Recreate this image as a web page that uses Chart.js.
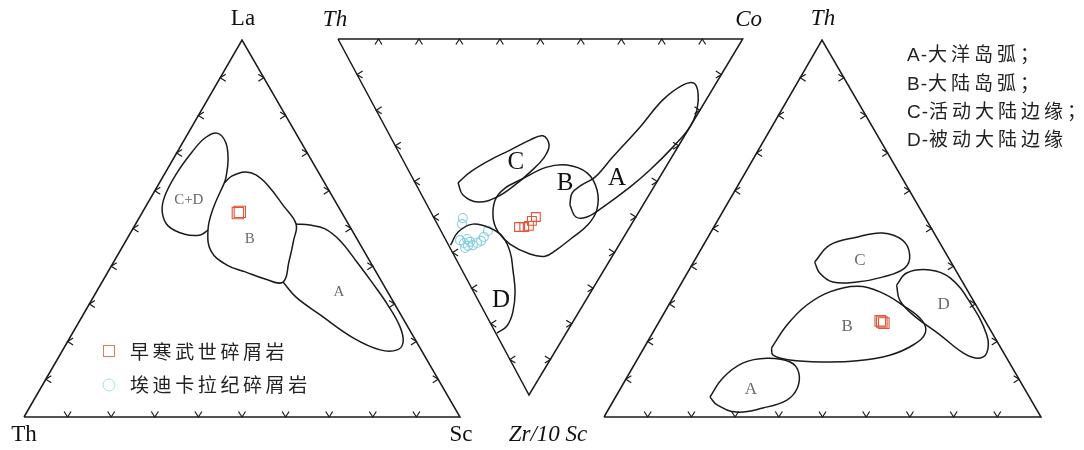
<!DOCTYPE html>
<html>
<head>
<meta charset="utf-8">
<script src="https://cdn.jsdelivr.net/npm/chart.js@4.4.0/dist/chart.umd.min.js"></script>
<style>
  html, body { margin: 0; padding: 0; background: #fff; }
  #wrap { width: 1084px; height: 450px; }
</style>
</head>
<body>
<div id="wrap"><canvas id="tern" width="1084" height="450"></canvas></div>
<script>
// all values are ternary percentages, each point = [right corner %, apex %]
// (the left corner is whatever is left of 100)
const tickVals = [10, 20, 30, 40, 50, 60, 70, 80, 90];

// --- diagram 1 : La (apex) - Th (left) - Sc (right)
const laFieldCD = [[17.4,49.6],[16.3,48.3],[12.6,48.5],[7.7,50.7],[4.5,54.4],[3.0,58.6],[2.7,64.7],[3.4,70.3],[4.5,74.0],[6.6,75.3],[9.8,72.9],[12.7,68.2],[14.6,63.4],[14.9,62.1]];
const laFieldB = [[14.9,62.1],[15.7,63.9],[18.2,65.0],[21.1,64.2],[25.4,61.3],[31.3,56.2],[36.8,51.2],[38.4,46.9],[40.2,41.1],[41.5,35.8],[37.0,36.6],[31.5,38.5],[26.4,40.3],[20.9,44.0],[17.4,49.6],[15.8,54.9],[14.9,62.1]];
const laFieldA = [[36.8,51.2],[40.1,50.9],[44.1,49.9],[49.2,46.7],[55.8,41.1],[62.2,35.5],[68.6,29.7],[74.3,23.9],[77.0,19.9],[76.7,17.8],[72.8,17.8],[65.0,21.0],[54.4,27.1],[46.5,31.8],[41.5,35.8]];
const laCambrian = [[22.0,54.1],[22.3,54.4]];
const laFieldLabels = ['C+D', 'B', 'A'];
const laFieldLabelPos = [[9.0,57.6],[28.2,47.2],[55.6,33.2]];

// --- diagram 2 : Th (left) - Co (right) - Zr/10 (apex, pointing down)
const coFieldC = [[10.6,40.4],[15.0,37.4],[21.5,34.0],[27.8,31.2],[34.0,28.4],[37.8,27.2],[38.1,29.8],[35.1,33.4],[29.8,37.4],[24.4,41.0],[18.3,44.4],[13.0,45.8],[10.2,43.8],[10.6,40.4]];
const coFieldB = [[26.3,39.6],[34.6,36.0],[39.9,35.4],[43.8,37.6],[44.0,42.4],[41.3,48.0],[37.1,52.2],[31.4,55.9],[25.9,59.3],[22.4,61.0],[18.9,60.4],[15.3,57.6],[14.0,54.2],[14.6,50.3],[17.5,45.2],[21.5,41.9],[26.3,39.6]];
const coFieldA = [[35.3,46.6],[37.4,43.3],[40.9,41.0],[45.2,38.8],[52.3,33.1],[63.0,24.7],[72.2,17.1],[79.2,12.9],[82.1,12.4],[81.8,15.2],[79.3,19.9],[75.3,24.7],[68.5,30.3],[59.7,36.8],[52.5,41.6],[43.2,47.2],[37.9,50.0],[35.2,50.0],[35.3,46.6]];
const coFieldD = [[0.5,57.9],[4.1,54.2],[8.8,52.0],[12.5,53.1],[14.5,55.6],[14.3,59.8],[12.6,64.9],[10.2,71.1],[7.0,76.7],[3.7,80.6],[0.3,82.6]];
const coCambrian = [[19.8,52.8],[21.1,52.8],[22.4,52.5],[23.8,51.1],[25.3,50.0]];
const coEdiacaran = [[7.1,50.3],[6.1,52.0],[3.5,56.5],[4.1,57.3],[5.4,56.2],[5.7,57.0],[6.0,57.9],[3.7,58.7],[7.3,57.3],[8.6,56.7],[9.8,55.6],[11.6,53.9],[4.7,58.1]];
const coFieldLabels = ['C', 'B', 'A', 'D'];
const coFieldLabelPos = [[27.6,34.6],[36.9,40.7],[50.4,39.3],[5.7,73.3]];

// --- diagram 3 : Th (apex)
const thFieldC = [[27.7,41.1],[28.9,45.6],[34.0,47.7],[39.4,48.8],[44.9,46.9],[48.5,43.0],[49.1,39.5],[45.2,37.1],[40.0,35.8],[34.5,35.8],[30.3,38.2],[27.7,41.1]];
const thFieldB = [[29.2,18.3],[29.7,24.4],[31.6,29.7],[35.1,33.2],[40.5,34.7],[46.6,33.2],[53.5,29.7],[59.9,25.7],[62.4,22.3],[61.2,19.1],[57.2,16.4],[50.5,14.9],[42.8,14.6],[35.0,15.1],[30.5,16.4],[29.2,18.3]];
const thFieldD = [[49.5,35.0],[50.2,38.2],[55.1,39.0],[60.8,36.9],[68.5,30.5],[76.7,21.8],[79.1,17.0],[77.6,15.6],[73.7,17.0],[66.0,21.8],[57.2,27.1],[52.2,31.0],[49.5,35.0]];
const thFieldA = [[21.6,5.3],[22.0,10.3],[24.6,14.3],[29.5,15.6],[35.3,14.6],[38.6,11.9],[40.4,7.7],[39.6,4.5],[35.2,2.4],[29.7,1.3],[24.3,3.2],[21.6,5.3]];
const thCambrian = [[50.5,25.5],[51.0,25.2],[51.6,24.9]];
const thFieldLabels = ['C', 'B', 'D', 'A'];
const thFieldLabelPos = [[37.8,41.6],[43.7,23.9],[62.9,29.7],[29.9,7.4]];

const keyNames = ['A-大洋岛弧；', 'B-大陆岛弧；', 'C-活动大陆边缘；', 'D-被动大陆边缘'];
const sampleNames = ['早寒武世碎屑岩', '埃迪卡拉纪碎屑岩'];

// layout: where each triangle sits on the canvas (left, right, apex corners)
const W = 1084, H = 450;
const tris = [
  { left: [24, 417], right: [460, 417], apex: [242, 40] },
  { left: [338, 39], right: [742.7, 39], apex: [529, 395] },
  { left: [604, 417], right: [1041, 417], apex: [822, 40] }
];

const RED = '#e4553a';
const CYAN = '#86cfe0';

function tern(t, p) {
  const r = p[0] / 100, a = p[1] / 100, l = 1 - r - a;
  return {
    x: t.left[0] * l + t.right[0] * r + t.apex[0] * a,
    y: t.left[1] * l + t.right[1] * r + t.apex[1] * a
  };
}

function lineSet(t, pts, tension) {
  return {
    data: pts.map(p => tern(t, p)),
    showLine: true,
    borderColor: '#1a1a1a',
    borderWidth: 1.5,
    pointRadius: 0,
    tension: tension,
    fill: false,
    clip: false
  };
}

function markSet(t, pts, style, r, color) {
  return {
    data: pts.map(p => tern(t, p)),
    showLine: false,
    pointStyle: style,
    pointRadius: r,
    pointBorderColor: color,
    pointBackgroundColor: 'rgba(255,255,255,0)',
    pointBorderWidth: 1.1,
    clip: false
  };
}

const frame = [[0,0],[100,0],[0,100],[0,0]];

const datasets = [
  lineSet(tris[0], frame, 0),
  lineSet(tris[1], frame, 0),
  lineSet(tris[2], frame, 0),
  lineSet(tris[0], laFieldCD, 0.4),
  lineSet(tris[0], laFieldB, 0.4),
  lineSet(tris[0], laFieldA, 0.4),
  lineSet(tris[1], coFieldC, 0.4),
  lineSet(tris[1], coFieldB, 0.4),
  lineSet(tris[1], coFieldA, 0.4),
  lineSet(tris[1], coFieldD, 0.4),
  lineSet(tris[2], thFieldC, 0.4),
  lineSet(tris[2], thFieldB, 0.4),
  lineSet(tris[2], thFieldD, 0.4),
  lineSet(tris[2], thFieldA, 0.4),
  markSet(tris[0], laCambrian, 'rect', 8, RED),
  markSet(tris[1], coEdiacaran, 'circle', 4.5, CYAN),
  markSet(tris[1], coCambrian, 'rect', 6.2, RED),
  markSet(tris[2], thCambrian, 'rect', 7.5, RED)
];

function spaced(ctx, text, x, y, gap) {
  for (const ch of text) {
    ctx.fillText(ch, x, y);
    // latin letters and the dash sit tighter than the CJK characters
    const g = ch.charCodeAt(0) < 128 ? 1 : gap;
    x += ctx.measureText(ch).width + g;
  }
}

// ticks, corner names, field names and the two keys
const decor = {
  id: 'decor',
  afterDatasetsDraw(chart) {
    const c = chart.ctx, sx = chart.scales.x, sy = chart.scales.y;
    const px = p => ({ x: sx.getPixelForValue(p.x), y: sy.getPixelForValue(p.y) });
    c.save();

    // tick chevrons, tip on the edge, pointing outwards
    c.strokeStyle = '#1a1a1a';
    c.lineWidth = 1.2;
    tris.forEach(t => {
      const down = t.left[1] > t.apex[1] ? 1 : -1;
      tickVals.forEach(v => {
        const edges = [
          { p: tern(t, [v, 0]), dx: 0, dy: down },
          { p: tern(t, [0, v]), dx: -1, dy: 0 },
          { p: tern(t, [100 - v, v]), dx: 1, dy: 0 }
        ];
        edges.forEach(e => {
          const q = px(e.p);
          const L = 5.5, S = 3.5;
          c.beginPath();
          c.moveTo(q.x - e.dx * L + e.dy * S, q.y - e.dy * L + e.dx * S);
          c.lineTo(q.x, q.y);
          c.lineTo(q.x - e.dx * L - e.dy * S, q.y - e.dy * L - e.dx * S);
          c.stroke();
        });
      });
    });

    // corner names
    c.fillStyle = '#111';
    c.textAlign = 'center';
    c.textBaseline = 'middle';
    const cornerName = (t, p, dx, dy, txt, font) => {
      const q = px(tern(t, p));
      c.font = font;
      c.fillText(txt, q.x + dx, q.y + dy);
    };
    const serif = '23px "Liberation Serif", "DejaVu Serif", serif';
    const serifIt = 'italic 23px "Liberation Serif", "DejaVu Serif", serif';
    cornerName(tris[0], [0, 100], 1, -21, 'La', serif);
    cornerName(tris[0], [0, 0], 0, 18, 'Th', serif);
    cornerName(tris[0], [100, 0], 1, 18, 'Sc', serif);
    cornerName(tris[1], [0, 0], -3, -19, 'Th', serifIt);
    cornerName(tris[1], [100, 0], 6, -19, 'Co', serifIt);
    cornerName(tris[1], [0, 100], 19, 40, 'Zr/10 Sc', serifIt);
    cornerName(tris[2], [0, 100], 1, -21, 'Th', serifIt);

    // field names
    const fieldNames = (t, names, pos, font, color) => {
      c.font = font;
      c.fillStyle = color;
      names.forEach((n, i) => {
        const q = px(tern(t, pos[i]));
        c.fillText(n, q.x, q.y);
      });
    };
    fieldNames(tris[0], laFieldLabels, laFieldLabelPos, '15px "Liberation Serif", serif', '#6a6a6a');
    fieldNames(tris[1], coFieldLabels, coFieldLabelPos, '25px "Liberation Serif", serif', '#111');
    fieldNames(tris[2], thFieldLabels, thFieldLabelPos, '17px "Liberation Serif", serif', '#6a6a6a');

    // key of tectonic settings, top right
    c.textAlign = 'left';
    c.fillStyle = '#222';
    c.font = '19px "Liberation Sans", "Noto Sans CJK SC", sans-serif';
    keyNames.forEach((n, i) => spaced(c, n, 907, 56 + i * 28.3, 4));

    // sample key, bottom left of diagram 1
    c.lineWidth = 1;
    c.strokeStyle = '#e07a66';
    c.strokeRect(103.5, 345.5, 11, 11);
    c.strokeStyle = '#a8dde6';
    c.beginPath();
    c.arc(109, 385, 6, 0, Math.PI * 2);
    c.stroke();
    c.fillStyle = '#222';
    c.font = '19px "Noto Sans CJK SC", sans-serif';
    sampleNames.forEach((n, i) => spaced(c, n, 130, 352 + i * 33, 3.6));

    c.restore();
  }
};

new Chart(document.getElementById('tern'), {
  type: 'scatter',
  data: { datasets: datasets },
  options: {
    responsive: false,
    animation: false,
    layout: { padding: 0, autoPadding: false },
    plugins: { legend: { display: false }, tooltip: { enabled: false } },
    scales: {
      x: { type: 'linear', min: 0, max: W, display: false },
      y: { type: 'linear', min: 0, max: H, reverse: true, display: false }
    }
  },
  plugins: [decor]
});
</script>
</body>
</html>
